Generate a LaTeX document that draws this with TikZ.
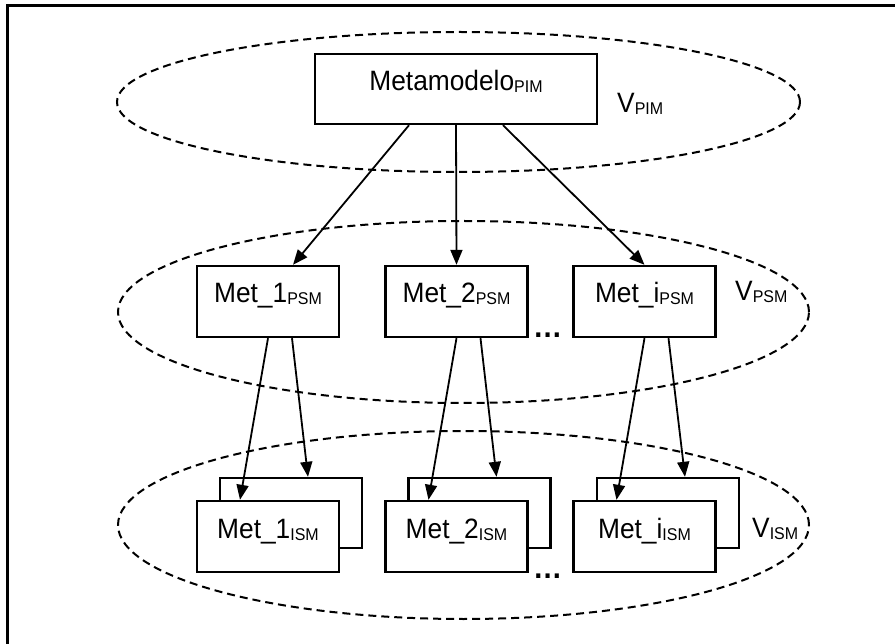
\documentclass[tikz,border=0pt]{standalone}
\usepackage{fontspec}
\setmainfont{Liberation Sans}[FakeStretch=0.94]
\usetikzlibrary{arrows.meta}
\newcommand{\sbs}[1]{\raisebox{-2pt}{\fontsize{17}{17}\selectfont #1}}

\begin{document}
\begin{tikzpicture}[x=1pt,y=-1pt,>={Triangle[length=15pt,width=12pt]}]
        \tikzstyle{every node}=[font=\fontsize{28}{33}\selectfont]
        \tikzstyle{met}=[rectangle,draw,line width=2.4pt,fill=white,minimum width=142pt,minimum height=71pt,text height=20pt,text depth=17pt,inner sep=0pt]
        \tikzstyle{zone}=[dash pattern=on 8pt off 5pt,line width=2pt]
        \tikzstyle{link}=[->,line width=1.8pt]
        \tikzstyle{vlabel}=[anchor=base west,inner sep=0pt]
        \tikzstyle{dots}=[vlabel,font=\fontsize{31}{33}\selectfont\bfseries]
        \useasboundingbox (0,0) rectangle (895,644);
        \draw[line width=3pt] (7,644) |- (895,6);
        \draw[zone] (458.5,102) ellipse [x radius=341.5pt,y radius=70pt];
        \draw[zone] (463.5,312) ellipse [x radius=345.5pt,y radius=91pt];
        \draw[zone] (463.5,525) ellipse [x radius=345.5pt,y radius=94pt];
        \node[met,minimum width=282pt,minimum height=70pt] (meta) at (456,89) {Metamodelo\sbs{PIM}};
        \node[vlabel] (vpim) at (617,113) {V\sbs{PIM}};
        \node[met] (psm1) at (268,301.5) {Met\_1\sbs{PSM}};
        \node[met] (psm2) at (456.5,301.5) {Met\_2\sbs{PSM}};
        \node[met] (psmi) at (644.5,301.5) {Met\_i\sbs{PSM}};
        \node[dots] (dpsm) at (533,338) {…};
        \node[vlabel] (vpsm) at (735,301) {V\sbs{PSM}};
        \node[met,minimum height=70pt] (bck1) at (291,513) {};
        \node[met,minimum height=70pt] (bck2) at (479.5,513) {};
        \node[met,minimum height=70pt] (bcki) at (668,513) {};
        \node[met] (ism1) at (268,536.5) {Met\_1\sbs{ISM}};
        \node[met] (ism2) at (456.5,536.5) {Met\_2\sbs{ISM}};
        \node[met] (ismi) at (644.5,536.5) {Met\_i\sbs{ISM}};
        \node[dots] (dism) at (533,578) {…};
        \node[vlabel] (vism) at (752,537) {V\sbs{ISM}};
        \draw[link] ([xshift=-47pt]meta.south) -- ([xshift=25pt]psm1.north);
        \draw[link] (meta.south) -- (psm2.north);
        \draw[link] ([xshift=47pt]meta.south) -- (psmi.north);
        \foreach \n in {1,2,i} {
            \draw[link] (psm\n.south) -- ([xshift=-28pt]ism\n.north);
            \draw[link] ([xshift=24pt]psm\n.south) -- ([xshift=17pt]bck\n.north);
        }
\end{tikzpicture}
\end{document}
